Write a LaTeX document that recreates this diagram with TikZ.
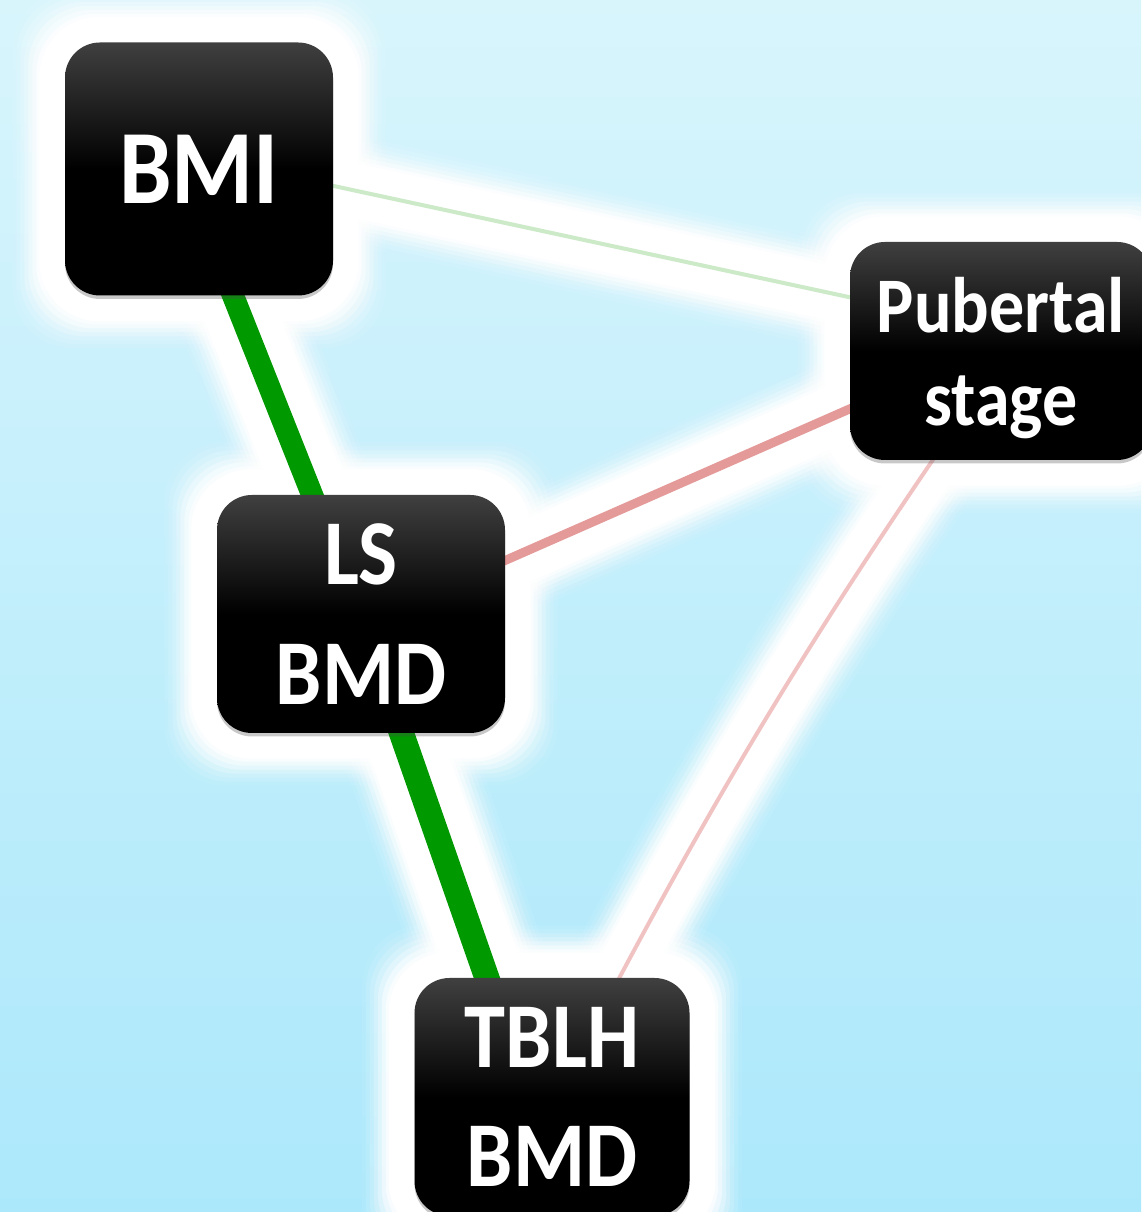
\documentclass[tikz,border=0pt]{standalone}
\usepackage{fontspec}
\setmainfont{Carlito}[FakeStretch=0.89]
\usepackage{tikz}
\usetikzlibrary{positioning,calc,shadows}
\pgfdeclarelayer{bg}
\pgfdeclarelayer{glow}
\pgfdeclarelayer{edges}
\pgfsetlayers{bg,glow,edges,main}
\definecolor{bgtop}{RGB}{216,245,252}
\definecolor{bgbot}{RGB}{172,232,251}
\definecolor{strongpos}{RGB}{0,153,0}
\definecolor{weakpos}{RGB}{204,233,200}
\definecolor{midneg}{RGB}{229,154,154}
\definecolor{weakneg}{RGB}{240,194,194}
\tikzset{
  varbox/.style={rounded corners=3.5mm,inner sep=0pt,text=white,align=center,
    top color=black!75,bottom color=black,middle color=black,
    drop shadow={shadow xshift=0mm,shadow yshift=-0.35mm,opacity=0.3,fill=black!70}},
}
% ノードの周りの白いぼかし
\newcommand{\boxglow}[1]{%
  \foreach \d/\o in {52/0.06,48/0.1,44/0.15,40/0.22,36/0.32,32/0.45,28/0.65,25/1}{%
    \fill[white,opacity=\o,rounded corners=6mm]
      ($(#1.south west)+(-\d,-\d)$) rectangle ($(#1.north east)+(\d,\d)$);}}
% 辺（白いぼかし付き）: #1 曲げ, #2 始点, #3 終点, #4 色, #5 太さ
\newcommand{\linkedge}[5][]{%
  \begin{pgfonlayer}{glow}
    \foreach \d/\o in {52/0.06,48/0.1,44/0.15,40/0.22,36/0.32,32/0.45,28/0.65,25/1}{%
      \draw[white,opacity=\o,line width=(#5+2*\d)*0.1mm] (#2) to[#1] (#3);}
  \end{pgfonlayer}
  \begin{pgfonlayer}{edges}
    \draw[#4,line width=#5*0.1mm] (#2) to[#1] (#3);
  \end{pgfonlayer}}

\begin{document}
\begin{tikzpicture}[x=0.1mm,y=0.1mm]
  \useasboundingbox (0,0) rectangle (1141,1212); % 図の大きさ
  \begin{pgfonlayer}{bg}
    \shade[top color=bgtop,bottom color=bgbot] (0,0) rectangle (1141,1212); % 水色の背景
  \end{pgfonlayer}
  \node[varbox,minimum width=26.8mm,minimum height=25.3mm,font=\bfseries\fontsize{30}{36}\selectfont] (bmi) at (199,1043) {BMI}; % BMI
  \node[varbox,minimum width=30.2mm,minimum height=21.8mm,font=\bfseries\fontsize{22.4}{26.5}\selectfont] (pub) at (1001,861) {Pubertal\\\raisebox{0pt}[\height][0pt]{stage}}; % 思春期段階
  \node[varbox,minimum width=28.8mm,minimum height=23.8mm,font=\bfseries\fontsize{26.4}{34}\selectfont] (ls) at (361,598) {LS\\BMD}; % 腰椎BMD
  \node[varbox,minimum width=27.5mm,minimum height=23.8mm,font=\bfseries\fontsize{26.4}{34}\selectfont] (tblh) at (552,115) {TBLH\\BMD}; % 全身BMD
  \begin{pgfonlayer}{glow}
    \foreach \n in {bmi,pub,ls,tblh}{\boxglow{\n}} % ノードのぼかし
  \end{pgfonlayer}
  \coordinate (bmi-e) at ([shift={(-23,17)}]bmi.center); % 辺の端点
  \coordinate (pub-e) at ([shift={(19,17)}]pub.center);
  \coordinate (ls-e) at ([shift={(2,-9)}]ls.center);
  \coordinate (tblh-e) at ([shift={(-12,-33)}]tblh.center);
  \linkedge{bmi-e}{pub-e}{weakpos}{4} % 弱い正の関連
  \linkedge{bmi-e}{ls-e}{strongpos}{22} % 強い正の関連
  \linkedge{ls-e}{tblh-e}{strongpos}{25} % 強い正の関連
  \linkedge{ls-e}{pub-e}{midneg}{9} % 負の関連
  \linkedge[bend right=4]{pub-e}{tblh-e}{weakneg}{4} % 弱い負の関連
\end{tikzpicture}
\end{document}
